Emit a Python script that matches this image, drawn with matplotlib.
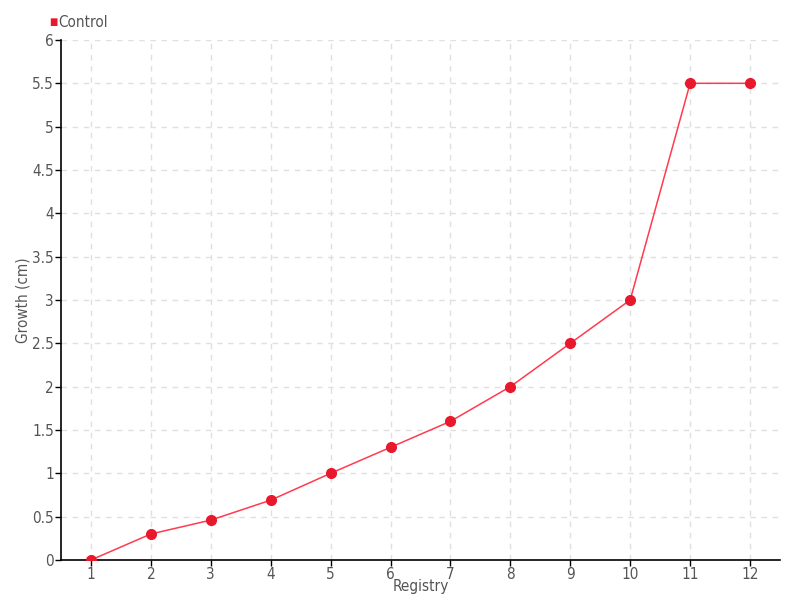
import matplotlib.pyplot as plt

registry = [1, 2, 3, 4, 5, 6, 7, 8, 9, 10, 11, 12]
control = [0, 0.3, 0.46, 0.69, 1.0, 1.3, 1.6, 2.0, 2.5, 3.0, 5.5, 5.5]
yticks = [0, 0.5, 1, 1.5, 2, 2.5, 3, 3.5, 4, 4.5, 5, 5.5, 6]
ytick_labels = ['0', '0.5', '1', '1.5', '2', '2.5', '3', '3.5', '4', '4.5', '5', '5.5', '6']

plt.rcParams['font.family'] = ['DejaVu Sans']
plt.rcParams['font.stretch'] = 'condensed'

grey = '#555555'
fig = plt.figure(figsize=(8, 6), dpi=100)
ax = fig.add_axes([0.07625, 0.0667, 0.89875, 0.8667])

ax.plot(registry, control, color='#ff3b4e', linewidth=1.1, zorder=3)
ax.plot(registry, control, 'o', color='#e8192c', markersize=7, zorder=4,
        label='Control')

ax.set_xlim(0.5, 12.5)
ax.set_ylim(0, 6)
ax.set_xticks(registry)
ax.set_yticks(yticks)
ax.set_yticklabels(ytick_labels)
ax.grid(True, color='#e0e0e0', linestyle=(0, (4, 4)), linewidth=1)
ax.set_axisbelow(True)

for s in ['top', 'right']:
    ax.spines[s].set_visible(False)
for s in ['left', 'bottom']:
    ax.spines[s].set_linewidth(1.2)
ax.tick_params(axis='both', colors=grey, labelsize=11, length=4, width=1, pad=1)
ax.tick_params(axis='both', color='black')

ax.set_xlabel('Registry', color=grey, fontsize=11, labelpad=-2)
ax.set_ylabel('Growth (cm)', color=grey, fontsize=11, labelpad=1)

fig.text(0.062, 0.963, '\u25a0', color='#e8192c', fontsize=7, va='center', ha='left')
fig.text(0.073, 0.963, 'Control', color=grey, fontsize=11, va='center', ha='left')

fig.savefig('out.png', dpi=100)
